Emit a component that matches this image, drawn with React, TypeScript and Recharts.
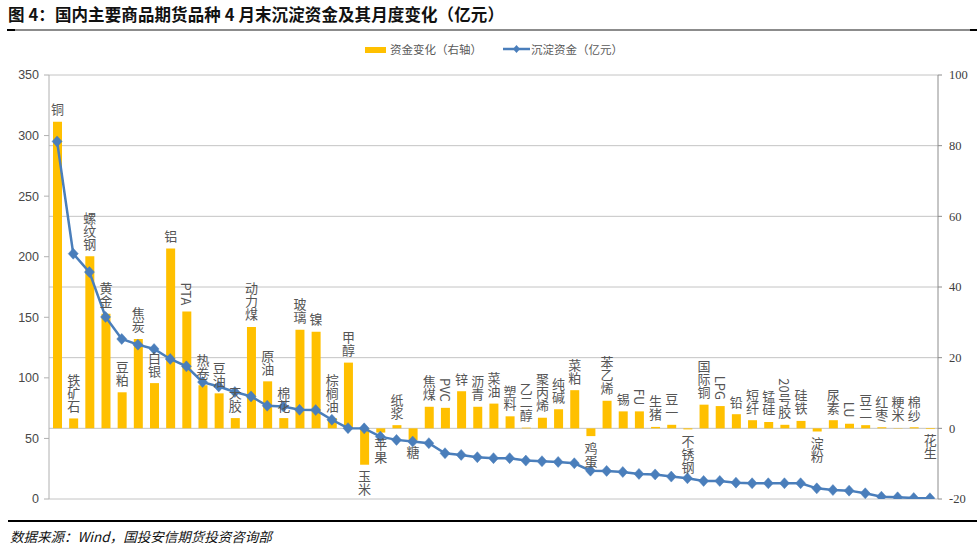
import React from 'react';
import { ComposedChart, Bar, Line, XAxis, YAxis, CartesianGrid } from 'recharts';

const names = ['铜','铁矿石','螺纹钢','黄金','豆粕','焦炭','白银','铝','PTA','热卷','豆油','天胶','动力煤','原油','棉花','玻璃','镍','棕榈油','甲醇','玉米','苹果','纸浆','糖','焦煤','PVC','锌','沥青','菜油','塑料','乙二醇','聚丙烯','纯碱','菜粕','鸡蛋','苯乙烯','锡','FU','生猪','豆一','不锈钢','国际铜','LPG','铅','短纤','锰硅','20号胶','硅铁','淀粉','尿素','LU','豆二','红枣','粳米','棉纱','花生'];

const changes = [86.8, 2.8, 48.7, 32.4, 10.2, 25.3, 12.8, 50.9, 33.1, 12.2, 9.9, 2.9, 28.7, 13.3, 2.9, 27.9, 27.3, 2.9, 18.6, -10.3, -1.2, 0.9, -3.4, 6.1, 5.8, 10.5, 6.1, 7.0, 3.4, 0.2, 3.0, 5.4, 10.8, -2.2, 7.8, 4.8, 4.8, 0.4, 1.0, -0.3, 6.7, 6.3, 4.0, 2.3, 1.8, 1.0, 2.1, -0.9, 2.3, 1.3, 0.9, 0.3, 0.1, 0.3, -0.2];

const funds = [295.2, 202.5, 187.3, 150.3, 132.1, 127.4, 123.8, 115.6, 109.5, 96.5, 92.9, 88.3, 84.7, 77.0, 76.4, 73.6, 73.4, 65.4, 58.5, 58.3, 51.5, 48.8, 47.4, 46.1, 37.8, 36.4, 34.5, 33.7, 33.7, 31.7, 31.2, 30.6, 29.5, 23.4, 23.2, 22.3, 20.7, 20.3, 18.5, 17.1, 14.9, 14.9, 13.5, 13.0, 13.0, 13.0, 13.0, 8.8, 7.4, 6.9, 4.7, 1.9, 1.4, 0.8, 0.6];

const leftTicks = [0, 50, 100, 150, 200, 250, 300, 350];
const rightTicks = [-20, 0, 20, 40, 60, 80, 100];

const data = names.map((name, i) => ({ name, change: changes[i], fund: funds[i] }));

const BAR_COLOR = '#FFC000';
const LINE_COLOR = '#4A7EBB';

const Diamond = (props: any) => {
  const { cx, cy, index } = props;
  if (cx == null || cy == null) return <g key={index} />;
  return (
    <path
      key={index}
      d={`M${cx},${cy - 5.5} L${cx + 5},${cy} L${cx},${cy + 5.5} L${cx - 5},${cy} Z`}
      fill={LINE_COLOR}
      stroke={LINE_COLOR}
      strokeWidth={0.5}
    />
  );
};

const BarLabel = (props: any) => {
  const { x, y, width, height, index } = props;
  const v = changes[index];
  const cx = x + width / 2;
  const top = Math.min(y, y + height);
  const bottom = Math.max(y, y + height);
  const style: any = { writingMode: 'vertical-rl' };
  if (v >= 0) {
    return (
      <text key={index} x={cx} y={top - 6} textAnchor="end" style={style}
        fontSize={13} fill="#555555" fontFamily="'Noto Sans CJK SC', sans-serif">
        {names[index]}
      </text>
    );
  }
  return (
    <text key={index} x={cx} y={bottom + 5} textAnchor="start" style={style}
      fontSize={13} fill="#555555" fontFamily="'Noto Sans CJK SC', sans-serif">
      {names[index]}
    </text>
  );
};

export default function App() {
  return (
    <div style={{ position: 'absolute', left: 0, top: 0, width: 980, height: 545, background: '#fff', overflow: 'hidden' }}>
      <div style={{ position: 'absolute', left: 8, top: 3, fontFamily: "'Noto Sans CJK SC', sans-serif", fontWeight: 700, fontSize: 16.5, color: '#111', whiteSpace: 'nowrap', lineHeight: '22px', letterSpacing: 0.1 }}>
        图 4：国内主要商品期货品种 4 月末沉淀资金及其月度变化（亿元）
      </div>
      <div style={{ position: 'absolute', left: 7, top: 29, width: 970, height: 1.5, background: '#8c8c8c' }} />
      <div style={{ position: 'absolute', left: 7, top: 29, width: 8, height: 1.5, background: '#000' }} />
      <div style={{ position: 'absolute', left: 970, top: 29, width: 7, height: 1.5, background: '#000' }} />

      <div style={{ position: 'absolute', left: 0, top: 0 }}>
        <ComposedChart width={980} height={545} data={data} margin={{ top: 75, right: 0, bottom: 46, left: 0 }}>
          <CartesianGrid yAxisId="right" vertical={false} stroke="#C4C4C4" strokeWidth={1} />
          <XAxis dataKey="name" hide />
          <YAxis yAxisId="left" orientation="left" width={49} domain={[0, 350]} ticks={leftTicks}
            interval={0} allowDataOverflow stroke="#B0B0B0" tickSize={5} tickMargin={5}
            tick={{ fontSize: 12.5, fill: '#484848', fontFamily: "'Liberation Sans', Arial, sans-serif" }} />
          <YAxis yAxisId="right" orientation="right" width={42} domain={[-20, 100]} ticks={rightTicks}
            interval={0} allowDataOverflow stroke="#8c8c8c" tickSize={4} tickMargin={7}
            tick={{ fontSize: 12.5, fill: '#404040', fontFamily: "'Liberation Serif', 'Times New Roman', serif", textAnchor: 'start' }} />
          <Bar yAxisId="right" dataKey="change" fill={BAR_COLOR} barSize={9} isAnimationActive={false}
            label={BarLabel} />
          <Line yAxisId="left" dataKey="fund" stroke={LINE_COLOR} strokeWidth={2.5} dot={Diamond}
            activeDot={false} isAnimationActive={false} type="linear" />
        </ComposedChart>
      </div>

      <div style={{ position: 'absolute', left: 365, top: 46.5, width: 21, height: 6, background: BAR_COLOR }} />
      <div style={{ position: 'absolute', left: 390, top: 41, fontFamily: "'Noto Sans CJK SC', sans-serif", fontSize: 11.5, color: '#595959', whiteSpace: 'nowrap', lineHeight: '16px' }}>
        资金变化（右轴）
      </div>
      <svg style={{ position: 'absolute', left: 503, top: 43 }} width={27} height={12}>
        <line x1={0} y1={6} x2={27} y2={6} stroke={LINE_COLOR} strokeWidth={2.5} />
        <path d="M13.5,2 L17,6 L13.5,10 L10,6 Z" fill={LINE_COLOR} />
      </svg>
      <div style={{ position: 'absolute', left: 531, top: 41, fontFamily: "'Noto Sans CJK SC', sans-serif", fontSize: 11.5, color: '#595959', whiteSpace: 'nowrap', lineHeight: '16px' }}>
        沉淀资金（亿元）
      </div>

      <div style={{ position: 'absolute', left: 8, top: 520, width: 969, height: 1.5, background: '#000' }} />
      <div style={{ position: 'absolute', left: 10, top: 527, fontFamily: "'Noto Sans CJK SC', sans-serif", fontStyle: 'italic', fontSize: 13.5, color: '#111', whiteSpace: 'nowrap', lineHeight: '18px' }}>
        数据来源：Wind，国投安信期货投资咨询部
      </div>
    </div>
  );
}
